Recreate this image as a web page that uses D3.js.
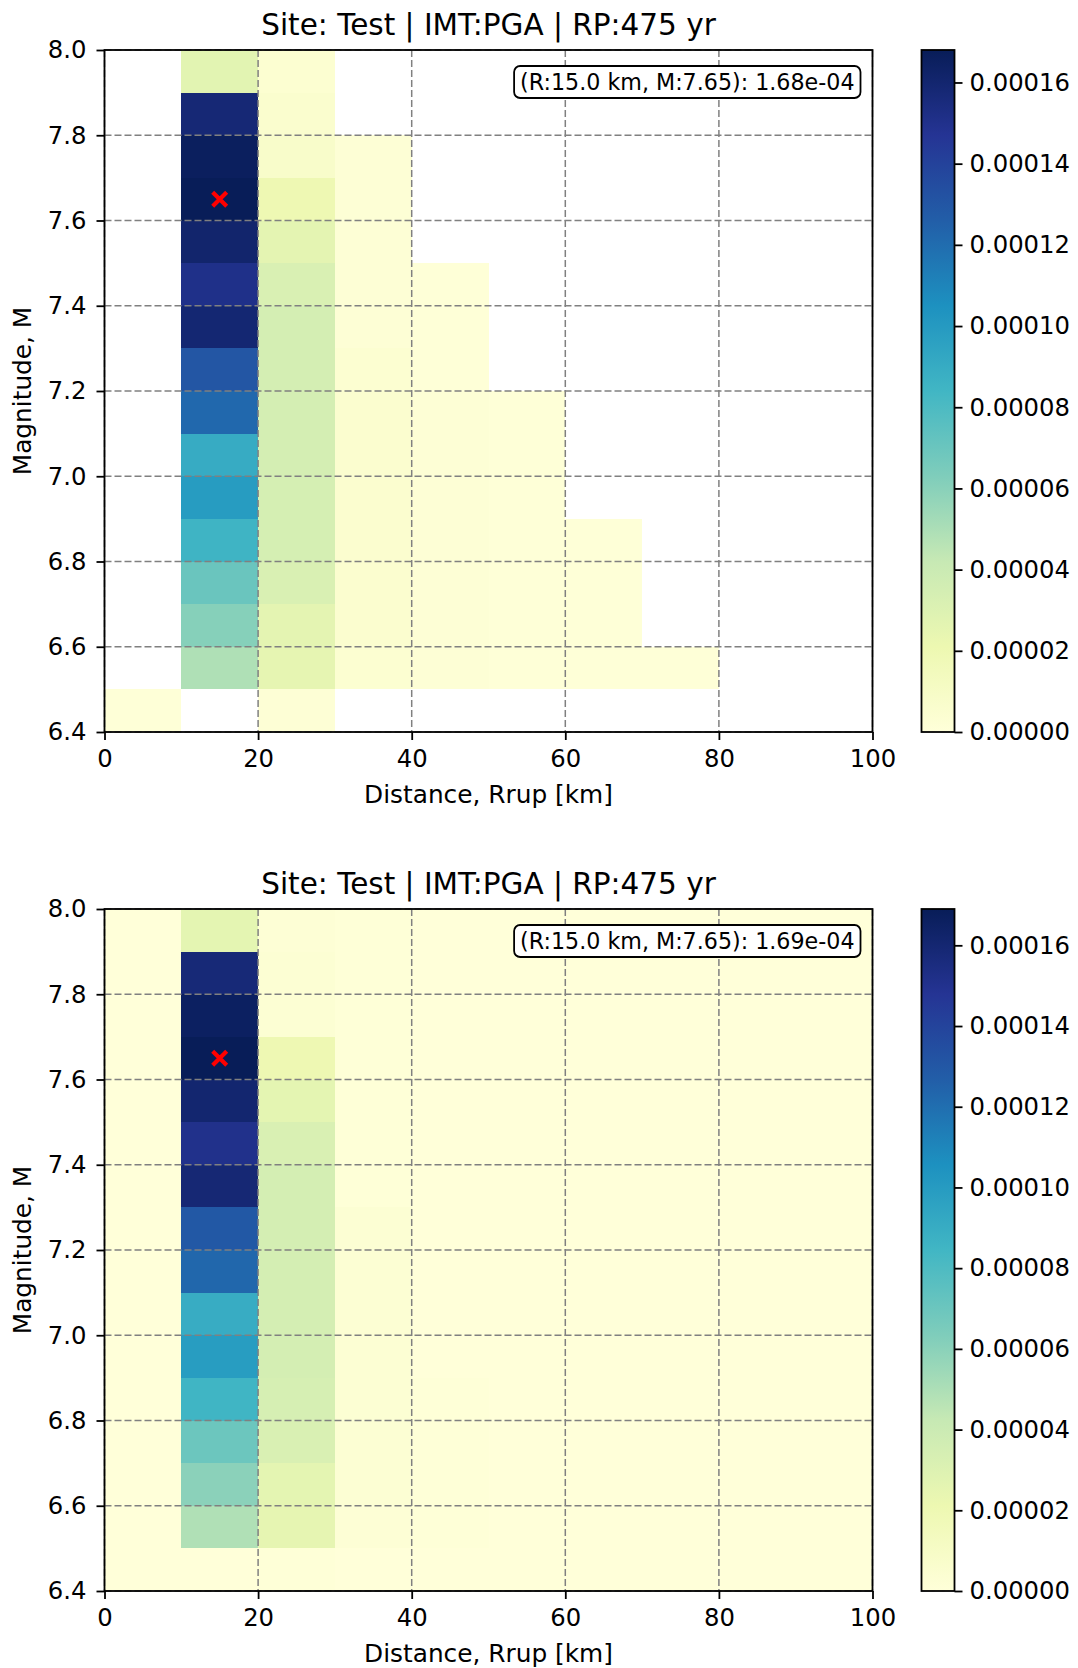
<!DOCTYPE html>
<html lang="en">
<head>
<meta charset="utf-8">
<title>Magnitude-distance deaggregation</title>
<script src="https://d3js.org/d3.v7.min.js"></script>
<style>
  body { margin: 0; background: #fff; }
  svg text { font-family: "DejaVu Sans", sans-serif; fill: #000; }
  .grid line { stroke: #808080; stroke-width: 1.5; stroke-dasharray: 7,3; }
  .tick line { stroke: #000; stroke-width: 1.8; }
  .tick text { font-size: 24.3px; }
</style>
</head>
<body>
<div id="chart"></div>
<script>
// bin edges
const distEdges = [0, 10, 20, 30, 40, 50, 60, 70, 80, 90, 100];
const magEdges = [6.4, 6.5, 6.6, 6.7, 6.8, 6.9, 7.0, 7.1, 7.2, 7.3, 7.4, 7.5, 7.6, 7.7, 7.8, 7.9, 8.0];

const xTicks = [0, 20, 40, 60, 80, 100];
const yTicks = [6.4, 6.6, 6.8, 7.0, 7.2, 7.4, 7.6, 7.8, 8.0];
const cbTicks = [0, 0.00002, 0.00004, 0.00006, 0.00008, 0.0001, 0.00012, 0.00014, 0.00016];

// YlGnBu (matplotlib) colour stops
const ylgnbu = ["#ffffd9", "#edf8b1", "#c7e9b4", "#7fcdbb", "#41b6c4", "#1d91c0", "#225ea8", "#253494", "#081d58"];

// panel 1: contributions per distance bin, magnitude rows from 6.4-6.5 up to 7.9-8.0 (null = no data)
const topR0_10   = [1e-6, null, null, null, null, null, null, null, null, null, null, null, null, null, null, null];
const topR10_20  = [null, 4.9e-5, 6.1e-5, 7.0e-5, 8.5e-5, 9.9e-5, 9.0e-5, 1.22e-4, 1.30e-4, 1.59e-4, 1.51e-4, 1.61e-4, 1.68e-4, 1.66e-4, 1.58e-4, 2.7e-5];
const topR20_30  = [2e-6, 2.5e-5, 2.6e-5, 3.2e-5, 3.4e-5, 3.4e-5, 3.5e-5, 3.5e-5, 3.5e-5, 3.5e-5, 3.2e-5, 2.6e-5, 2.0e-5, 8e-6, 6e-6, 4e-6];
const topR30_40  = [null, 4e-6, 5e-6, 5e-6, 5e-6, 5e-6, 5e-6, 5e-6, 4e-6, 2e-6, 2e-6, 2e-6, 2e-6, 2e-6, null, null];
const topR40_50  = [null, 2e-6, 2e-6, 2e-6, 2e-6, 2e-6, 2e-6, 2e-6, 1e-6, 1e-6, 1e-6, null, null, null, null, null];
const topR50_60  = [null, 1e-6, 1e-6, 1e-6, 1e-6, 1e-6, 1e-6, 1e-6, null, null, null, null, null, null, null, null];
const topR60_70  = [null, 1e-6, 1e-6, 1e-6, 1e-6, null, null, null, null, null, null, null, null, null, null, null];
const topR70_80  = [null, 1e-6, null, null, null, null, null, null, null, null, null, null, null, null, null, null];
const topR80_90  = [null, null, null, null, null, null, null, null, null, null, null, null, null, null, null, null];
const topR90_100 = [null, null, null, null, null, null, null, null, null, null, null, null, null, null, null, null];

// panel 2: same layout, empty bins stored as zero
const botR0_10   = [0, 0, 0, 0, 0, 0, 0, 0, 0, 0, 0, 0, 0, 0, 0, 0];
const botR10_20  = [0, 4.9e-5, 6.0e-5, 7.0e-5, 8.5e-5, 9.9e-5, 9.0e-5, 1.23e-4, 1.30e-4, 1.59e-4, 1.51e-4, 1.61e-4, 1.69e-4, 1.66e-4, 1.58e-4, 2.6e-5];
const botR20_30  = [1e-6, 2.5e-5, 2.6e-5, 3.2e-5, 3.4e-5, 3.5e-5, 3.5e-5, 3.5e-5, 3.5e-5, 3.5e-5, 3.2e-5, 2.6e-5, 2.0e-5, 3e-6, 3e-6, 2e-6];
const botR30_40  = [0, 2e-6, 3e-6, 3e-6, 3e-6, 3e-6, 3e-6, 3e-6, 3e-6, 1e-6, 1e-6, 1e-6, 1e-6, 1e-6, 1e-6, 1e-6];
const botR40_50  = [0, 1e-6, 1e-6, 1e-6, 1e-6, 0, 0, 0, 0, 0, 0, 0, 0, 0, 0, 0];
const botR50_60  = [0, 0, 0, 0, 0, 0, 0, 0, 0, 0, 0, 0, 0, 0, 0, 0];
const botR60_70  = [0, 0, 0, 0, 0, 0, 0, 0, 0, 0, 0, 0, 0, 0, 0, 0];
const botR70_80  = [0, 0, 0, 0, 0, 0, 0, 0, 0, 0, 0, 0, 0, 0, 0, 0];
const botR80_90  = [0, 0, 0, 0, 0, 0, 0, 0, 0, 0, 0, 0, 0, 0, 0, 0];
const botR90_100 = [0, 0, 0, 0, 0, 0, 0, 0, 0, 0, 0, 0, 0, 0, 0, 0];

const panels = [
    {cols: [topR0_10, topR10_20, topR20_30, topR30_40, topR40_50, topR50_60, topR60_70, topR70_80, topR80_90, topR90_100],
     peakR: 15.0, peakM: 7.65, peakText: "(R:15.0 km, M:7.65): 1.68e-04"},
    {cols: [botR0_10, botR10_20, botR20_30, botR30_40, botR40_50, botR50_60, botR60_70, botR70_80, botR80_90, botR90_100],
     peakR: 15.0, peakM: 7.65, peakText: "(R:15.0 km, M:7.65): 1.69e-04"}
];

const titleText = "Site: Test | IMT:PGA | RP:475 yr";

// layout
const W = 1078, H = 1668;
const plotLeft = 104.5, plotRight = 872.5, plotH = 682;
const panelTops = [50, 909];
const cbLeft = 921.5, cbW = 33;

const svg = d3.select("#chart").append("svg")
    .attr("width", W)
    .attr("height", H);

const defs = svg.append("defs");
const grad = defs.append("linearGradient")
    .attr("id", "cbgrad")
    .attr("x1", 0).attr("y1", 1).attr("x2", 0).attr("y2", 0);
grad.selectAll("stop")
    .data(ylgnbu)
    .join("stop")
    .attr("offset", (d, i) => i / (ylgnbu.length - 1))
    .attr("stop-color", d => d);

const x = d3.scaleLinear().domain([0, 100]).range([plotLeft, plotRight]);

panels.forEach((p, k) => {
    const top = panelTops[k];
    const y = d3.scaleLinear().domain([6.4, 8.0]).range([top + plotH, top]);
    const g = svg.append("g");

    const cells = [];
    p.cols.forEach((col, i) => col.forEach((v, j) => {
        if (v !== null) cells.push({r0: distEdges[i], r1: distEdges[i + 1], m0: magEdges[j], m1: magEdges[j + 1], v: v});
    }));
    const vmax = d3.max(cells, d => d.v);
    const color = d3.scaleLinear()
        .domain(ylgnbu.map((c, i) => vmax * i / (ylgnbu.length - 1)))
        .range(ylgnbu)
        .interpolate(d3.interpolateRgb)
        .clamp(true);

    g.selectAll("rect.cell")
        .data(cells)
        .join("rect")
        .attr("class", "cell")
        .attr("x", d => x(d.r0))
        .attr("y", d => y(d.m1))
        .attr("width", d => x(d.r1) - x(d.r0))
        .attr("height", d => y(d.m0) - y(d.m1))
        .attr("fill", d => color(d.v))
        .attr("shape-rendering", "crispEdges");

    // dashed grid over the cells
    const grid = g.append("g").attr("class", "grid");
    grid.selectAll("line.v")
        .data(xTicks)
        .join("line")
        .attr("class", "v")
        .attr("x1", d => x(d)).attr("x2", d => x(d))
        .attr("y1", top).attr("y2", top + plotH);
    grid.selectAll("line.h")
        .data(yTicks)
        .join("line")
        .attr("class", "h")
        .attr("x1", plotLeft).attr("x2", plotRight)
        .attr("y1", d => y(d)).attr("y2", d => y(d));

    // peak marker
    g.append("path")
        .attr("transform", `translate(${x(p.peakR)},${y(p.peakM)})`)
        .attr("d", "M-7,-7L7,7M-7,7L7,-7")
        .attr("stroke", "red")
        .attr("stroke-width", 4.2)
        .attr("fill", "none");

    // axes
    const xAxis = g.append("g")
        .attr("transform", `translate(0,${top + plotH})`)
        .call(d3.axisBottom(x).tickValues(xTicks).tickSize(8).tickPadding(5));
    xAxis.select(".domain").remove();
    xAxis.selectAll(".tick text").attr("dy", "0.92em");

    const yAxis = g.append("g")
        .attr("transform", `translate(${plotLeft},0)`)
        .call(d3.axisLeft(y).tickValues(yTicks).tickFormat(d3.format(".1f")).tickSize(8).tickPadding(10));
    yAxis.select(".domain").remove();

    g.append("rect")
        .attr("x", plotLeft).attr("y", top)
        .attr("width", plotRight - plotLeft).attr("height", plotH)
        .attr("fill", "none").attr("stroke", "#000").attr("stroke-width", 1.8);

    // peak annotation box
    const noteBox = g.append("rect");
    const note = g.append("text")
        .attr("x", plotRight - 18)
        .attr("y", top + 40)
        .attr("text-anchor", "end")
        .attr("font-size", 22.2)
        .text(p.peakText);
    const bb = note.node().getBBox();
    noteBox
        .attr("x", bb.x - 6).attr("y", bb.y - 3)
        .attr("width", bb.width + 12).attr("height", bb.height + 6)
        .attr("rx", 6)
        .attr("fill", "#fff").attr("stroke", "#000").attr("stroke-width", 1.8);

    // titles and labels
    g.append("text")
        .attr("x", (plotLeft + plotRight) / 2)
        .attr("y", top - 15)
        .attr("text-anchor", "middle")
        .attr("font-size", 29.5)
        .text(titleText);
    g.append("text")
        .attr("x", (plotLeft + plotRight) / 2)
        .attr("y", top + plotH + 71)
        .attr("text-anchor", "middle")
        .attr("font-size", 24.8)
        .text("Distance, Rrup [km]");
    g.append("text")
        .attr("transform", `translate(31,${top + plotH / 2}) rotate(-90)`)
        .attr("text-anchor", "middle")
        .attr("font-size", 24.8)
        .text("Magnitude, M");

    // colorbar
    const cb = d3.scaleLinear().domain([0, vmax]).range([top + plotH, top]);
    g.append("rect")
        .attr("x", cbLeft).attr("y", top)
        .attr("width", cbW).attr("height", plotH)
        .attr("fill", "url(#cbgrad)");
    const cbAxis = g.append("g")
        .attr("transform", `translate(${cbLeft + cbW},0)`)
        .call(d3.axisRight(cb).tickValues(cbTicks).tickFormat(d3.format(".5f")).tickSize(8).tickPadding(7));
    cbAxis.select(".domain").remove();
    g.append("rect")
        .attr("x", cbLeft).attr("y", top)
        .attr("width", cbW).attr("height", plotH)
        .attr("fill", "none").attr("stroke", "#000").attr("stroke-width", 1.8);
});
</script>
</body>
</html>
